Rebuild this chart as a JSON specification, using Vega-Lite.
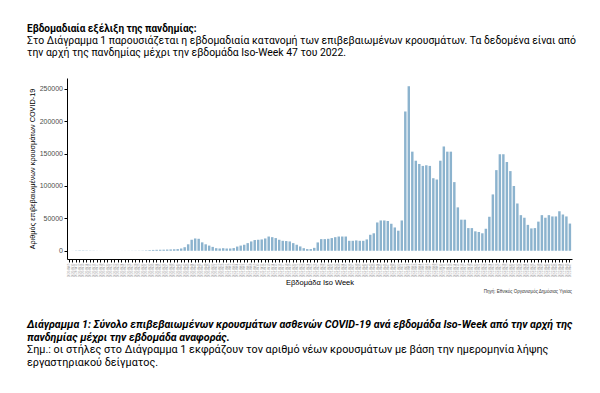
{
  "$schema": "https://vega.github.io/schema/vega-lite/v6.json",
  "background": "white",
  "padding": {"left": 27, "top": 24, "right": 5, "bottom": 5},
  "config": {"view": {"stroke": null}, "font": "Liberation Sans"},
  "title": {
    "text": "Εβδομαδιαία εξέλιξη της πανδημίας:",
    "subtitle": ["Στο Διάγραμμα 1 παρουσιάζεται η εβδομαδιαία κατανομή των επιβεβαιωμένων κρουσμάτων. Τα δεδομένα είναι από", "την αρχή της πανδημίας μέχρι την εβδομάδα Iso-Week 47 του 2022."],
    "anchor": "start", "frame": "bounds", "font": "Roboto", "fontSize": 10, "fontWeight": "bold", "color": "black",
    "subtitleFont": "Roboto", "subtitleFontSize": 10.4, "subtitleColor": "black", "subtitlePadding": 2, "subtitleLineHeight": 12, "offset": 19.5
  },
  "spacing": 24,
  "vconcat": [
    {
      "width": 505,
      "height": 181,
      "data": {"values": [
        {"week": "2020-W09", "cases": 10}, {"week": "2020-W10", "cases": 80}, {"week": "2020-W11", "cases": 350}, {"week": "2020-W12", "cases": 550},
        {"week": "2020-W13", "cases": 500}, {"week": "2020-W14", "cases": 400}, {"week": "2020-W15", "cases": 300}, {"week": "2020-W16", "cases": 250},
        {"week": "2020-W17", "cases": 120}, {"week": "2020-W18", "cases": 80}, {"week": "2020-W19", "cases": 60}, {"week": "2020-W20", "cases": 40},
        {"week": "2020-W21", "cases": 40}, {"week": "2020-W22", "cases": 50}, {"week": "2020-W23", "cases": 70}, {"week": "2020-W24", "cases": 80},
        {"week": "2020-W25", "cases": 100}, {"week": "2020-W26", "cases": 130}, {"week": "2020-W27", "cases": 170}, {"week": "2020-W28", "cases": 200},
        {"week": "2020-W29", "cases": 260}, {"week": "2020-W30", "cases": 350}, {"week": "2020-W31", "cases": 600}, {"week": "2020-W32", "cases": 1000},
        {"week": "2020-W33", "cases": 1300}, {"week": "2020-W34", "cases": 1500}, {"week": "2020-W35", "cases": 1600}, {"week": "2020-W36", "cases": 1700},
        {"week": "2020-W37", "cases": 1900}, {"week": "2020-W38", "cases": 2100}, {"week": "2020-W39", "cases": 2300}, {"week": "2020-W40", "cases": 2600},
        {"week": "2020-W41", "cases": 3500}, {"week": "2020-W42", "cases": 5500}, {"week": "2020-W43", "cases": 10000}, {"week": "2020-W44", "cases": 17000},
        {"week": "2020-W45", "cases": 19000}, {"week": "2020-W46", "cases": 18500}, {"week": "2020-W47", "cases": 13000}, {"week": "2020-W48", "cases": 10000},
        {"week": "2020-W49", "cases": 8000}, {"week": "2020-W50", "cases": 6000}, {"week": "2020-W51", "cases": 4000}, {"week": "2020-W52", "cases": 3500},
        {"week": "2020-W53", "cases": 4000},
        {"week": "2021-W01", "cases": 3500}, {"week": "2021-W02", "cases": 3500}, {"week": "2021-W03", "cases": 4200}, {"week": "2021-W04", "cases": 6500},
        {"week": "2021-W05", "cases": 8000}, {"week": "2021-W06", "cases": 9300}, {"week": "2021-W07", "cases": 11800}, {"week": "2021-W08", "cases": 14400},
        {"week": "2021-W09", "cases": 16500}, {"week": "2021-W10", "cases": 17000}, {"week": "2021-W11", "cases": 17500}, {"week": "2021-W12", "cases": 19000},
        {"week": "2021-W13", "cases": 22000}, {"week": "2021-W14", "cases": 21000}, {"week": "2021-W15", "cases": 19600}, {"week": "2021-W16", "cases": 17000},
        {"week": "2021-W17", "cases": 15400}, {"week": "2021-W18", "cases": 15000}, {"week": "2021-W19", "cases": 14400}, {"week": "2021-W20", "cases": 11800},
        {"week": "2021-W21", "cases": 9300}, {"week": "2021-W22", "cases": 6700}, {"week": "2021-W23", "cases": 4000}, {"week": "2021-W24", "cases": 2600},
        {"week": "2021-W25", "cases": 2600}, {"week": "2021-W26", "cases": 4500}, {"week": "2021-W27", "cases": 12900}, {"week": "2021-W28", "cases": 18000},
        {"week": "2021-W29", "cases": 18000}, {"week": "2021-W30", "cases": 18500}, {"week": "2021-W31", "cases": 19600}, {"week": "2021-W32", "cases": 21000},
        {"week": "2021-W33", "cases": 22000}, {"week": "2021-W34", "cases": 22000}, {"week": "2021-W35", "cases": 22000}, {"week": "2021-W36", "cases": 15400},
        {"week": "2021-W37", "cases": 15400}, {"week": "2021-W38", "cases": 16000}, {"week": "2021-W39", "cases": 15400}, {"week": "2021-W40", "cases": 15400},
        {"week": "2021-W41", "cases": 17500}, {"week": "2021-W42", "cases": 24700}, {"week": "2021-W43", "cases": 27000}, {"week": "2021-W44", "cases": 43700},
        {"week": "2021-W45", "cases": 46800}, {"week": "2021-W46", "cases": 46800}, {"week": "2021-W47", "cases": 46000}, {"week": "2021-W48", "cases": 41700},
        {"week": "2021-W49", "cases": 36000}, {"week": "2021-W50", "cases": 31000}, {"week": "2021-W51", "cases": 46800}, {"week": "2021-W52", "cases": 215000},
        {"week": "2022-W01", "cases": 254000}, {"week": "2022-W02", "cases": 153000}, {"week": "2022-W03", "cases": 139000}, {"week": "2022-W04", "cases": 134000},
        {"week": "2022-W05", "cases": 131000}, {"week": "2022-W06", "cases": 132000}, {"week": "2022-W07", "cases": 131000}, {"week": "2022-W08", "cases": 112000},
        {"week": "2022-W09", "cases": 110000}, {"week": "2022-W10", "cases": 139000}, {"week": "2022-W11", "cases": 161000}, {"week": "2022-W12", "cases": 153000},
        {"week": "2022-W13", "cases": 153000}, {"week": "2022-W14", "cases": 106000}, {"week": "2022-W15", "cases": 67000}, {"week": "2022-W16", "cases": 48000},
        {"week": "2022-W17", "cases": 48000}, {"week": "2022-W18", "cases": 35000}, {"week": "2022-W19", "cases": 35000}, {"week": "2022-W20", "cases": 30000},
        {"week": "2022-W21", "cases": 29000}, {"week": "2022-W22", "cases": 27000}, {"week": "2022-W23", "cases": 34000}, {"week": "2022-W24", "cases": 52500},
        {"week": "2022-W25", "cases": 87000}, {"week": "2022-W26", "cases": 124500}, {"week": "2022-W27", "cases": 149000}, {"week": "2022-W28", "cases": 149000},
        {"week": "2022-W29", "cases": 137000}, {"week": "2022-W30", "cases": 123000}, {"week": "2022-W31", "cases": 100000}, {"week": "2022-W32", "cases": 73000},
        {"week": "2022-W33", "cases": 55000}, {"week": "2022-W34", "cases": 51000}, {"week": "2022-W35", "cases": 40000}, {"week": "2022-W36", "cases": 34500},
        {"week": "2022-W37", "cases": 35000}, {"week": "2022-W38", "cases": 45000}, {"week": "2022-W39", "cases": 55000}, {"week": "2022-W40", "cases": 51000},
        {"week": "2022-W41", "cases": 55000}, {"week": "2022-W42", "cases": 53000}, {"week": "2022-W43", "cases": 53000}, {"week": "2022-W44", "cases": 61000},
        {"week": "2022-W45", "cases": 56000}, {"week": "2022-W46", "cases": 53000}, {"week": "2022-W47", "cases": 42000}
      ]},
      "title": {"text": "Πηγή: Εθνικός Οργανισμός Δημόσιας Υγείας", "orient": "bottom", "anchor": "end", "font": "Liberation Sans", "fontSize": 4.5, "fontWeight": "normal", "color": "#333333", "offset": 3},
      "mark": {"type": "bar", "color": "#8cb3ce"},
      "encoding": {
        "x": {
          "field": "week", "type": "ordinal", "sort": null,
          "scale": {"paddingInner": 0.3, "paddingOuter": 0.25},
          "axis": {"title": "Εβδομάδα Iso Week", "titleFontSize": 7.5, "titleFontWeight": "normal", "titleColor": "black", "titlePadding": 2,
                   "labelAngle": -90, "labelFontSize": 3, "labelColor": "#9a9a9a", "labelOverlap": false, "labelBound": false, "labelPadding": 1,
                   "tickColor": "black", "tickSize": 3, "domainColor": "black", "domainWidth": 1}
        },
        "y": {
          "field": "cases", "type": "quantitative",
          "scale": {"domain": [-12700, 266700], "nice": false, "zero": false},
          "axis": {"title": "Αριθμός επιβεβαιωμένων κρουσμάτων COVID-19", "titleFontSize": 7.3, "titleFontWeight": "normal", "titleColor": "black", "titlePadding": 3,
                   "values": [0, 50000, 100000, 150000, 200000, 250000], "format": "d", "grid": false,
                   "labelFontSize": 7, "labelColor": "#4d4d4d", "labelPadding": 1.5, "tickColor": "black", "tickSize": 3, "domainColor": "black", "domainWidth": 1}
        },
        "y2": {"datum": 0}
      }
    },
    {
      "width": 505,
      "height": 1,
      "data": {"values": []},
      "mark": "text",
      "encoding": {},
      "title": {
        "text": ["Διάγραμμα 1: Σύνολο επιβεβαιωμένων κρουσμάτων ασθενών COVID-19 ανά εβδομάδα Iso-Week από την αρχή της", "πανδημίας μέχρι την εβδομάδα αναφοράς."],
        "subtitle": ["Σημ.: οι στήλες στο Διάγραμμα 1 εκφράζουν τον αριθμό νέων κρουσμάτων με βάση την ημερομηνία λήψης", "εργαστηριακού δείγματος."],
        "anchor": "start", "dx": -40, "font": "Roboto", "fontSize": 10.7, "fontWeight": "bold", "fontStyle": "italic", "color": "black", "lineHeight": 13,
        "subtitleFont": "Roboto", "subtitleFontSize": 10.8, "subtitleColor": "black", "subtitleLineHeight": 13, "subtitlePadding": 1
      }
    }
  ]
}
